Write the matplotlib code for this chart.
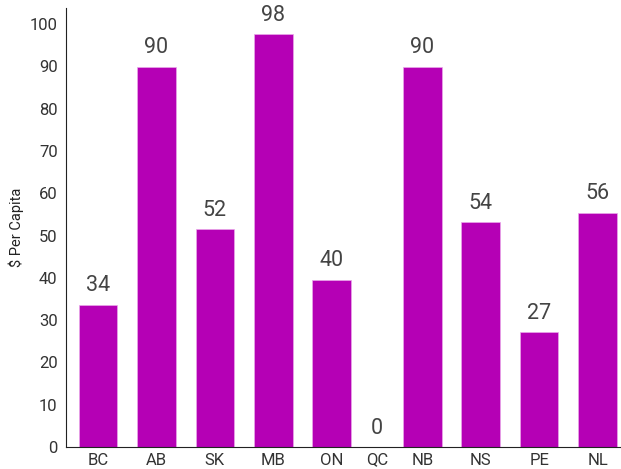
import matplotlib
matplotlib.use("Agg")
import matplotlib.pyplot as plt
import numpy as np

provinces = ["BC", "AB", "SK", "MB", "ON", "QC", "NB", "NS", "PE", "NL"]
per_capita = [33.6, 89.9, 51.5, 97.6, 39.5, 0, 89.9, 53.2, 27.2, 55.4]
value_labels = ["34", "90", "52", "98", "40", "0", "90", "54", "27", "56"]

plt.rcParams["font.family"] = ["Roboto", "DejaVu Sans"]

# zero-valued categories get a narrower slot, like the original
slots = np.array([1.0 if v > 0 else 0.55 for v in per_capita])
xpos = np.cumsum(slots) - slots / 2 - slots[0] / 2

fig = plt.figure(figsize=(6.21, 4.69), dpi=100)
ax = fig.add_axes([66 / 621, 22 / 469, 555 / 621, 439 / 469])

bar_color = "#b500b5"
ax.bar(xpos, per_capita, width=0.66, color=bar_color, edgecolor="#e9a8e9", linewidth=0.5)

for x, v, lab in zip(xpos, per_capita, value_labels):
    ax.text(x, v + 2.0, lab, ha="center", va="bottom", fontsize=15.5, color="#444444")

ax.set_xlim(-0.547, xpos[-1] + 0.40)
ax.set_ylim(0, 103.8)
ax.set_yticks(range(0, 101, 10))
ax.set_xticks(xpos)
ax.set_xticklabels(provinces)
ax.tick_params(axis="both", length=0, labelsize=12, colors="#333333")
ax.tick_params(axis="y", pad=6)
ax.tick_params(axis="x", pad=4)

ax.spines["top"].set_visible(False)
ax.spines["right"].set_visible(False)
ax.spines["left"].set_color("#222222")
ax.spines["bottom"].set_color("#222222")

ax.set_ylabel("$ Per Capita", fontsize=10.5, color="#222222", labelpad=4)

fig.savefig("out.png", dpi=100)
